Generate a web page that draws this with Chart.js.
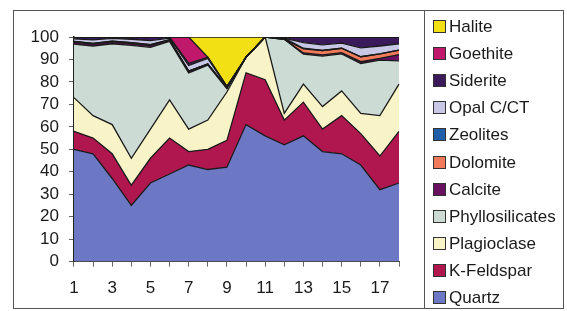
<!DOCTYPE html>
<html>
<head>
<meta charset="utf-8">
<script src="https://cdn.jsdelivr.net/npm/chart.js@4"></script>
<style>
  body { margin: 0; background: #fff; }
  #wrap { position: relative; width: 567px; height: 311px; }
  #frame { position: absolute; left: 13px; top: 10px; width: 551px; height: 299px; border: 1px solid #555; box-sizing: border-box; }
  #legend { position: absolute; left: 424px; top: 10px; width: 141px; height: 299px; border-left: 1px solid #555; box-sizing: border-box; font: 17px "Liberation Sans", Arial, sans-serif; color: #1a1a1a; }
  .item { position: absolute; left: 8px; height: 20px; line-height: 20px; white-space: nowrap; }
  .sw { display: inline-block; width: 11px; height: 11px; border: 1px solid #333; vertical-align: -1px; margin-right: 3px; }
  canvas { position: absolute; left: 0; top: 0; }
</style>
</head>
<body>
<div id="wrap">
  <div id="frame"></div>
  <canvas id="c" width="567" height="311"></canvas>
  <div id="legend"></div>
</div>
<script>
const categories = ["1","2","3","4","5","6","7","8","9","10","11","12","13","14","15","16","17","18"];

// stacked percentages, bottom to top
const quartz =          [50, 48, 37, 25, 35, 39, 43, 41, 42, 61, 56, 52, 56, 49, 48, 43, 32, 35];
const kFeldspar =       [8, 7, 11, 9, 11, 16, 6, 9, 12, 23, 25, 11, 15, 10, 17, 14, 15, 23];
const plagioclase =     [15, 10, 13, 12, 13, 17, 10, 13, 21.5, 7, 19, 3, 8, 10, 11, 9, 18, 21];
const phyllosilicates = [23.8, 31, 36, 50.3, 36.4, 26, 25, 24.5, 1.5, 0, 0, 33, 13.4, 22.5, 16.5, 22.2, 24.7, 10.4];
const calcite =         [0.8, 0.8, 0.8, 0.8, 0.8, 0.5, 0.8, 0.5, 0.3, 0, 0, 0, 0.5, 0.5, 0.5, 0.8, 0.8, 2.8];
const dolomite =        [0.4, 0.4, 0.4, 0.4, 0.4, 0.3, 0, 0, 0, 0, 0, 0, 1.8, 2, 2, 2.2, 2, 2];
const zeolites =        [0, 0, 0, 0, 0, 0, 0, 0, 0, 0, 0, 0.5, 0.3, 0, 0, 0, 0, 0];
const opal =            [1.2, 1.5, 1.2, 1.5, 1.8, 0.7, 2.5, 2.5, 0.4, 0, 0, 0, 2.5, 2.5, 2.3, 4, 3.5, 2.8];
const siderite =        [0.8, 1.3, 0.6, 1, 1.6, 0.5, 1, 0.5, 0.3, 0, 0, 0.5, 2.5, 3.5, 2.7, 4.8, 4, 3];
const goethite =        [0, 0, 0, 0, 0, 0, 11.7, 0, 0, 0, 0, 0, 0, 0, 0, 0, 0, 0];
const halite =          [0, 0, 0, 0, 0, 0, 0, 9, 22, 9, 0, 0, 0, 0, 0, 0, 0, 0];

const yTicks = [0, 10, 20, 30, 40, 50, 60, 70, 80, 90, 100];

const series = [
    { label: "Quartz", data: quartz, color: "#6d78c4" },
    { label: "K-Feldspar", data: kFeldspar, color: "#b0174f" },
    { label: "Plagioclase", data: plagioclase, color: "#f8f4c8" },
    { label: "Phyllosilicates", data: phyllosilicates, color: "#cddbd5" },
    { label: "Calcite", data: calcite, color: "#6a1060" },
    { label: "Dolomite", data: dolomite, color: "#f07a5a" },
    { label: "Zeolites", data: zeolites, color: "#1f5fa8" },
    { label: "Opal C/CT", data: opal, color: "#c8c8e6" },
    { label: "Siderite", data: siderite, color: "#3a1a5a" },
    { label: "Goethite", data: goethite, color: "#c0186a" },
    { label: "Halite", data: halite, color: "#f2e014" }
];

const font = '"Liberation Sans", Arial, sans-serif';

new Chart(document.getElementById('c'), {
    type: 'line',
    data: {
        labels: categories,
        datasets: series.map((s, i) => ({
            label: s.label,
            data: s.data,
            backgroundColor: s.color,
            borderColor: '#1a1a1a',
            borderWidth: 1.3,
            pointRadius: 0,
            tension: 0,
            fill: i === 0 ? 'origin' : '-1'
        }))
    },
    options: {
        responsive: false,
        animation: false,
        layout: { padding: { left: 20.6, top: 37, right: 168, bottom: 0 } },
        plugins: {
            legend: { display: false },
            tooltip: { enabled: false },
            filler: { drawTime: 'beforeDatasetsDraw' }
        },
        scales: {
            x: {
                offset: false,
                grid: { drawOnChartArea: false, tickLength: 5, color: '#666' },
                border: { color: '#444', width: 1 },
                ticks: {
                    autoSkip: false, maxRotation: 0, padding: 12,
                    color: '#1a1a1a', font: { family: font, size: 17 },
                    callback: (v, i) => i % 2 === 0 ? categories[i] : ''
                }
            },
            y: {
                stacked: true,
                min: 0, max: 100,
                afterBuildTicks: axis => { axis.ticks = yTicks.map(v => ({ value: v })); },
                grid: { drawOnChartArea: false, tickLength: 5, color: '#666' },
                border: { color: '#222', width: 1.5 },
                ticks: { autoSkip: false, padding: 10, color: '#1a1a1a', font: { family: font, size: 17 } }
            }
        }
    }
});

// legend, top to bottom in reverse stack order
const legend = document.getElementById('legend');
series.slice().reverse().forEach((s, i) => {
    const div = document.createElement('div');
    div.className = 'item';
    div.style.top = (7 + i * 27.1) + 'px';
    div.innerHTML = `<span class="sw" style="background:${s.color}"></span>${s.label}`;
    legend.appendChild(div);
});
</script>
</body>
</html>
